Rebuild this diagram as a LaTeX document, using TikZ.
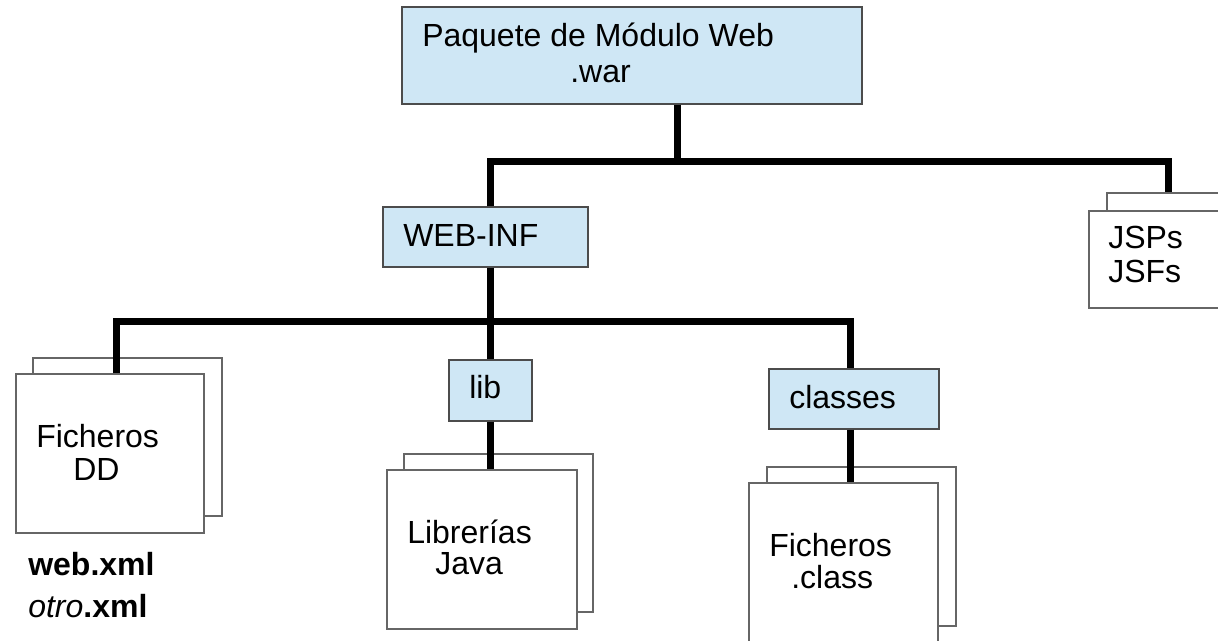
\documentclass[tikz,border=0pt]{standalone}
\usepackage{fontspec}
\setmainfont{Liberation Sans}
\usetikzlibrary{fit}
\definecolor{boxblue}{RGB}{207,231,245}
\begin{document}
\begin{tikzpicture}[x=0.75pt,y=-0.75pt,
  folder/.style={draw=black!70, line width=1.1pt, fill=boxblue, inner sep=0pt},
  sheet/.style={draw=black!60, line width=1.1pt, fill=white, inner sep=0pt},
  conn/.style={line width=5.25pt, line join=miter},
  lbl/.style={anchor=base west, inner sep=0pt, font=\fontsize{24}{28}\selectfont}]
\useasboundingbox (0,0) rectangle (1218,640);
\clip (0,0) rectangle (1218,640);
% boxes
\node[folder, fit={(402,7) (862,104)}] (top) {};
\node[folder, fit={(383,207) (588,267)}] (webinf) {};
\node[folder, fit={(449,360) (532,421)}] (lib) {};
\node[folder, fit={(769,369) (939,429)}] (classes) {};
% stacked sheets
\node[sheet, fit={(1107,193) (1240,292)}] (jspback) {};
\node[sheet, fit={(1089,211) (1230,308)}] (jspfront) {};
\node[sheet, fit={(33,358) (222,516)}] (ddback) {};
\node[sheet, fit={(16,374) (204,533)}] (ddfront) {};
\node[sheet, fit={(404,454) (593,612)}] (libback) {};
\node[sheet, fit={(387,470) (577,629)}] (libfront) {};
\node[sheet, fit={(767,467) (956,626)}] (clsback) {};
\node[sheet, fit={(749,483) (938,660)}] (clsfront) {};
% junctions
\coordinate (jtop) at (677,161);
\coordinate (jl) at (490,161);
\coordinate (jr) at (1168,161);
\coordinate (k1) at (116,321);
\coordinate (k2) at (490,321);
\coordinate (k3) at (850,321);
% connectors
\draw[conn] (jtop |- top.south) -- (jtop);
\draw[conn] (jl |- webinf.north) -- (jl) -- (jr) -- (jr |- jspback.north);
\draw[conn] (k2 |- webinf.south) -- (k2 |- lib.north);
\draw[conn] (k1 |- ddfront.north) -- (k1) -- (k3) -- (k3 |- classes.north);
\draw[conn] (k2 |- lib.south) -- (k2 |- libfront.north);
\draw[conn] (k3 |- classes.south) -- (k3 |- clsfront.north);
% texts
\node[lbl] (t1) at (422,46) {Paquete de Módulo Web};
\node[lbl] (t2) at (570,82) {.war};
\node[lbl] (t3) at (403,246) {WEB-INF};
\node[lbl] (t4) at (469,398) {lib};
\node[lbl] (t5) at (789,408) {classes};
\node[lbl] (t6) at (1108,248) {JSPs};
\node[lbl] (t7) at (1108,282) {JSFs};
\node[lbl] (t8) at (36,447) {Ficheros};
\node[lbl] (t9) at (73,480) {DD};
\node[lbl] (t10) at (407,543) {Librerías};
\node[lbl] (t11) at (435,574) {Java};
\node[lbl] (t12) at (769,556) {Ficheros};
\node[lbl] (t13) at (791,588) {.class};
\node[lbl] (t14) at (28,575) {\bfseries web.xml};
\node[lbl] (t15) at (28,617) {\itshape otro\bfseries\upshape .xml};
\end{tikzpicture}
\end{document}
